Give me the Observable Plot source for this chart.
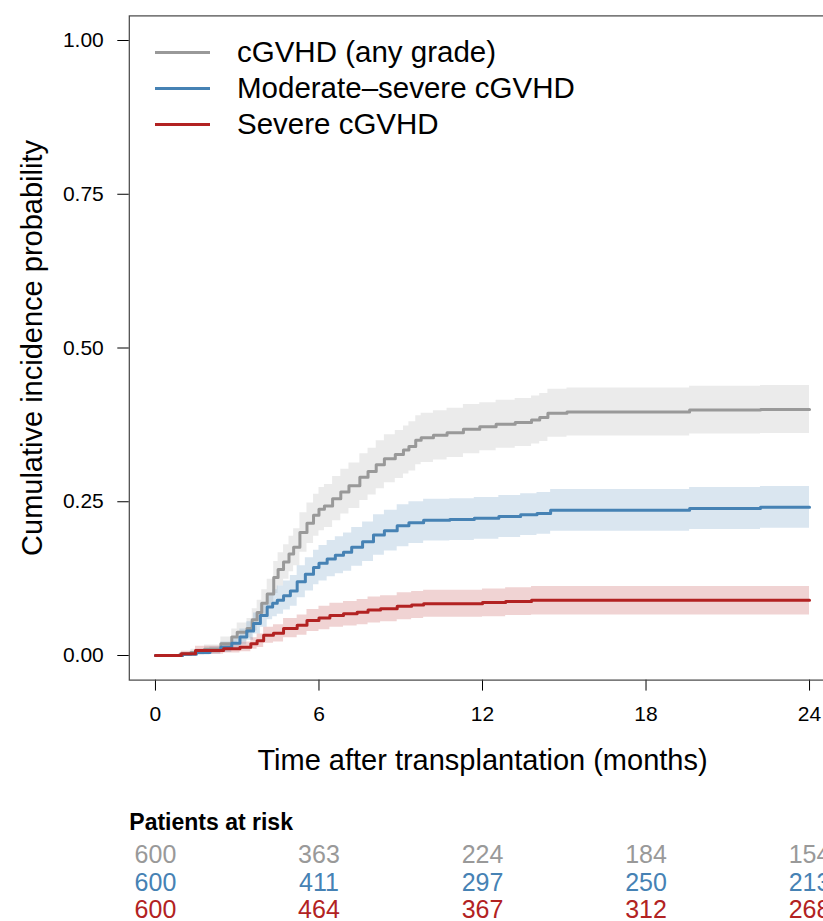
<!DOCTYPE html>
<html>
<head>
<meta charset="utf-8">
<script src="https://cdn.jsdelivr.net/npm/d3@7"></script>
<script src="https://cdn.jsdelivr.net/npm/@observablehq/plot@0.6"></script>
<style>
  html, body { margin: 0; padding: 0; background: #fff; overflow: hidden; }
  #wrap { position: relative; width: 823px; height: 921px; overflow: hidden; font-family: "Liberation Sans", Arial, Helvetica, sans-serif; }
  #chart svg { max-width: none !important; display: block; }
  #legend { position: absolute; left: 0; top: 0; }
  .lg-row { position: absolute; left: 0; height: 36px; width: 500px; }
  .lg-line { position: absolute; left: 155px; top: 16.5px; width: 55px; height: 3px; }
  .lg-text { position: absolute; left: 237px; top: 0; line-height: 36px; font-size: 29.5px; color: #000; white-space: nowrap; }
</style>
</head>
<body>
<div id="wrap"><div id="chart"></div><div id="legend"></div></div>
<script>
// ---- Data ----
const seriesNames = ["cGVHD (any grade)", "Moderate–severe cGVHD", "Severe cGVHD"];
const seriesColors = ["#999999", "#4682B4", "#B22222"];

const anyTime = [0, 0.9, 1.3, 1.8, 2.4, 2.8, 3.0, 3.36, 3.55, 3.73, 3.9, 4.1, 4.34, 4.5, 4.7, 4.9, 5.07, 5.3, 5.56, 5.8, 6.0, 6.2, 6.5, 6.8, 7.1, 7.5, 7.8, 8.1, 8.4, 8.8, 9.1, 9.3, 9.55, 9.75, 10.2, 10.7, 11.3, 11.9, 12.5, 13.2, 13.8, 14.1, 14.4, 15.1, 19.6, 22.2, 24];
const anyEst  = [0, 0.002, 0.005, 0.010, 0.019, 0.030, 0.038, 0.044, 0.058, 0.070, 0.085, 0.100, 0.127, 0.140, 0.152, 0.165, 0.176, 0.200, 0.215, 0.228, 0.238, 0.243, 0.255, 0.266, 0.276, 0.290, 0.299, 0.310, 0.320, 0.327, 0.334, 0.340, 0.350, 0.354, 0.358, 0.362, 0.368, 0.372, 0.376, 0.379, 0.383, 0.387, 0.394, 0.396, 0.399, 0.400, 0.400];
const anyLo   = [0, 0.000, 0.001, 0.003, 0.009, 0.017, 0.023, 0.028, 0.040, 0.050, 0.063, 0.076, 0.101, 0.113, 0.124, 0.136, 0.146, 0.168, 0.182, 0.194, 0.203, 0.208, 0.219, 0.230, 0.239, 0.252, 0.261, 0.271, 0.281, 0.288, 0.295, 0.300, 0.310, 0.314, 0.318, 0.322, 0.328, 0.333, 0.337, 0.340, 0.344, 0.348, 0.355, 0.357, 0.360, 0.361, 0.361];
const anyHi   = [0, 0.005, 0.010, 0.017, 0.030, 0.043, 0.053, 0.060, 0.076, 0.090, 0.107, 0.124, 0.153, 0.167, 0.180, 0.194, 0.206, 0.232, 0.248, 0.262, 0.273, 0.278, 0.291, 0.303, 0.313, 0.328, 0.337, 0.349, 0.359, 0.366, 0.373, 0.380, 0.390, 0.394, 0.398, 0.402, 0.408, 0.411, 0.415, 0.418, 0.422, 0.426, 0.433, 0.435, 0.438, 0.439, 0.439];

const modTime = [0, 1.0, 1.5, 2.0, 2.4, 2.8, 3.1, 3.35, 3.6, 3.85, 4.1, 4.3, 4.47, 4.7, 4.95, 5.2, 5.5, 5.8, 6.0, 6.3, 6.6, 6.9, 7.2, 7.6, 8.0, 8.4, 8.87, 9.3, 9.84, 10.8, 11.7, 12.6, 13.4, 14.0, 14.5, 19.6, 22.2, 24];
const modEst  = [0, 0.002, 0.005, 0.008, 0.0135, 0.020, 0.030, 0.040, 0.052, 0.065, 0.079, 0.085, 0.090, 0.097, 0.105, 0.120, 0.132, 0.143, 0.150, 0.157, 0.163, 0.168, 0.176, 0.185, 0.196, 0.203, 0.211, 0.216, 0.220, 0.221, 0.223, 0.226, 0.229, 0.231, 0.236, 0.239, 0.241, 0.241];
const modLo   = [0, 0.000, 0.001, 0.002, 0.005, 0.009, 0.017, 0.025, 0.035, 0.046, 0.058, 0.063, 0.067, 0.074, 0.080, 0.094, 0.105, 0.115, 0.121, 0.128, 0.133, 0.137, 0.145, 0.153, 0.163, 0.170, 0.177, 0.182, 0.186, 0.187, 0.189, 0.192, 0.195, 0.197, 0.202, 0.205, 0.207, 0.207];
const modHi   = [0, 0.005, 0.010, 0.014, 0.022, 0.031, 0.043, 0.055, 0.069, 0.084, 0.100, 0.107, 0.113, 0.121, 0.130, 0.146, 0.159, 0.171, 0.179, 0.187, 0.193, 0.199, 0.208, 0.217, 0.229, 0.236, 0.245, 0.250, 0.254, 0.255, 0.257, 0.260, 0.263, 0.265, 0.270, 0.273, 0.275, 0.275];

const sevTime = [0, 0.95, 1.47, 2.5, 3.1, 3.5, 3.73, 3.97, 4.33, 4.7, 5.2, 5.56, 6.0, 6.4, 6.9, 7.4, 7.8, 8.26, 8.87, 9.4, 9.84, 12.0, 12.85, 13.8, 24];
const sevEst  = [0, 0.003, 0.008, 0.011, 0.0135, 0.019, 0.024, 0.033, 0.036, 0.044, 0.049, 0.057, 0.061, 0.065, 0.068, 0.0705, 0.074, 0.076, 0.080, 0.082, 0.084, 0.086, 0.088, 0.090, 0.090];
const sevLo   = [0, 0.000, 0.002, 0.004, 0.006, 0.010, 0.013, 0.020, 0.022, 0.029, 0.033, 0.039, 0.042, 0.046, 0.048, 0.050, 0.053, 0.055, 0.058, 0.060, 0.062, 0.063, 0.065, 0.066, 0.066];
const sevHi   = [0, 0.007, 0.015, 0.019, 0.022, 0.029, 0.035, 0.046, 0.050, 0.060, 0.066, 0.075, 0.080, 0.085, 0.088, 0.091, 0.095, 0.097, 0.102, 0.104, 0.106, 0.108, 0.110, 0.112, 0.112];

const xTicks = [0, 6, 12, 18, 24];
const yTicks = [0, 0.25, 0.5, 0.75, 1];
const riskTimes = [0, 6, 12, 18, 24];
const riskAny = [600, 363, 224, 184, 154];
const riskMod = [600, 411, 297, 250, 213];
const riskSev = [600, 464, 367, 312, 268];
const riskTitle = "Patients at risk";
const xTitle = "Time after transplantation (months)";
const yTitle = "Cumulative incidence probability";

// ---- Build tables ----
function build(name, t, e, lo, hi) {
  return t.map((v, i) => ({series: name, t: v, est: e[i], lo: lo[i], hi: hi[i]}));
}
const curves = [
  build(seriesNames[0], anyTime, anyEst, anyLo, anyHi),
  build(seriesNames[1], modTime, modEst, modLo, modHi),
  build(seriesNames[2], sevTime, sevEst, sevLo, sevHi)
];
const riskRows = [riskAny, riskMod, riskSev];
const risk = riskRows.flatMap((row, r) => row.map((n, i) => ({t: riskTimes[i], n, row: r})));

const font = '"Liberation Sans", Arial, Helvetica, sans-serif';
const W = 836, H = 921;
const marks = [];
curves.forEach((c, i) => marks.push(Plot.areaY(c, {x: "t", y1: "lo", y2: "hi", fill: seriesColors[i], fillOpacity: 0.2, curve: "step-after"})));
curves.forEach((c, i) => marks.push(Plot.lineY(c, {x: "t", y: "est", stroke: seriesColors[i], strokeWidth: 3, curve: "step-after"})));
marks.push(Plot.frame({stroke: "#444", strokeWidth: 1.2}));
marks.push(Plot.text([xTitle], {frameAnchor: "bottom", dy: 80.5, text: d => d, fontSize: 29, fill: "#000", lineAnchor: "middle"}));
marks.push(Plot.text([yTitle], {frameAnchor: "left", dx: -97, rotate: -90, text: d => d, fontSize: 29, fill: "#000", textAnchor: "middle", lineAnchor: "middle"}));
marks.push(Plot.text([riskTitle], {frameAnchor: "bottom-left", dy: 143, text: d => d, fontSize: 23, fontWeight: "bold", fill: "#000", textAnchor: "start", lineAnchor: "middle"}));
const riskDy = [174.4, 202.4, 229.4];
riskRows.forEach((row, r) => {
  marks.push(Plot.text(risk.filter(d => d.row === r), {x: "t", frameAnchor: "bottom", dy: riskDy[r], text: d => String(d.n), fontSize: 25, fill: seriesColors[r], lineAnchor: "middle"}));
});

const chart = Plot.plot({
  width: W,
  height: H,
  marginLeft: 128.8,
  marginRight: 0.8,
  marginTop: 15.4,
  marginBottom: 241.4,
  style: {fontFamily: font, fontSize: "21px", color: "#000", background: "#fff", maxWidth: "none"},
  x: {domain: [-0.96, 24.96], ticks: xTicks, tickSize: 11, tickPadding: 15, label: null},
  y: {domain: [-0.04, 1.04], ticks: yTicks, tickFormat: d3.format(".2f"), tickSize: 11.5, tickPadding: 14, label: null},
  marks
});
chart.style.maxWidth = "none";
document.getElementById("chart").appendChild(chart);

// ---- Legend (inside plot area, top-left) ----
const legend = document.getElementById("legend");
seriesNames.forEach((name, i) => {
  const row = document.createElement("div");
  row.className = "lg-row";
  row.style.top = (34 + i * 36) + "px";
  const ln = document.createElement("div");
  ln.className = "lg-line";
  ln.style.background = seriesColors[i];
  const tx = document.createElement("div");
  tx.className = "lg-text";
  tx.textContent = name;
  row.appendChild(ln); row.appendChild(tx);
  legend.appendChild(row);
});
</script>
</body>
</html>
